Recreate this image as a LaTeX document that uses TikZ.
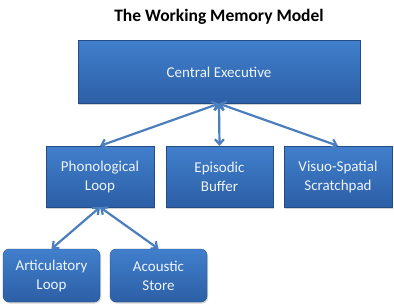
\documentclass[tikz,border=0pt]{standalone}
\usepackage{fontspec}
\setmainfont{Carlito}
\usetikzlibrary{arrows.meta,shadows}
\definecolor{boxtop}{HTML}{417FCC}
\definecolor{boxbot}{HTML}{2C5FA6}
\definecolor{arrowc}{HTML}{4A7EBF}
\definecolor{boxtext}{HTML}{EEF4FC}
\tikzset{
  wbox/.style={top color=boxtop, bottom color=boxbot, draw=boxbot!80!black, line width=0.3pt,
    text=boxtext, font=\fontsize{15}{19}\selectfont, align=center, inner sep=0pt,
    drop shadow={shadow xshift=1pt, shadow yshift=-1.5pt, opacity=0.35}},
  rbox/.style={wbox, rounded corners=6pt},
  link/.style={draw=arrowc, line width=2.2pt, {Straight Barb[length=5pt,width=9pt]}-{Straight Barb[length=5pt,width=9pt]}}
}
\begin{document}
\begin{tikzpicture}[x=1pt,y=-1pt]
\useasboundingbox[fill=white] (0,0) rectangle (394,308);
\node[font=\fontsize{17.5}{20}\selectfont\bfseries] (title) at (219,17) {The Working Memory Model};
\node[wbox, minimum width=282pt, minimum height=63pt] (ce) at (219,72) {Central Executive};
\node[wbox, minimum width=108pt, minimum height=61pt] (pl) at (100,176.5) {Phonological\\Loop};
\node[wbox, minimum width=107pt, minimum height=61pt] (eb) at (219.5,176.5) {Episodic\\Buffer};
\node[wbox, minimum width=108pt, minimum height=61pt] (vs) at (338,176.5) {Visuo-Spatial\\Scratchpad};
\node[rbox, minimum width=97pt, minimum height=53pt] (al) at (51.5,275.5) {Articulatory\\Loop};
\node[rbox, minimum width=97pt, minimum height=53pt] (as) at (158.5,275.5) {Acoustic\\Store};
\draw[link] (ce.south) -- (pl.north);
\draw[link] (ce.south) -- (eb.north);
\draw[link] (ce.south) -- (vs.north);
\draw[link] (pl.south) -- (al.north);
\draw[link] (pl.south) -- (as.north);
\end{tikzpicture}
\end{document}
